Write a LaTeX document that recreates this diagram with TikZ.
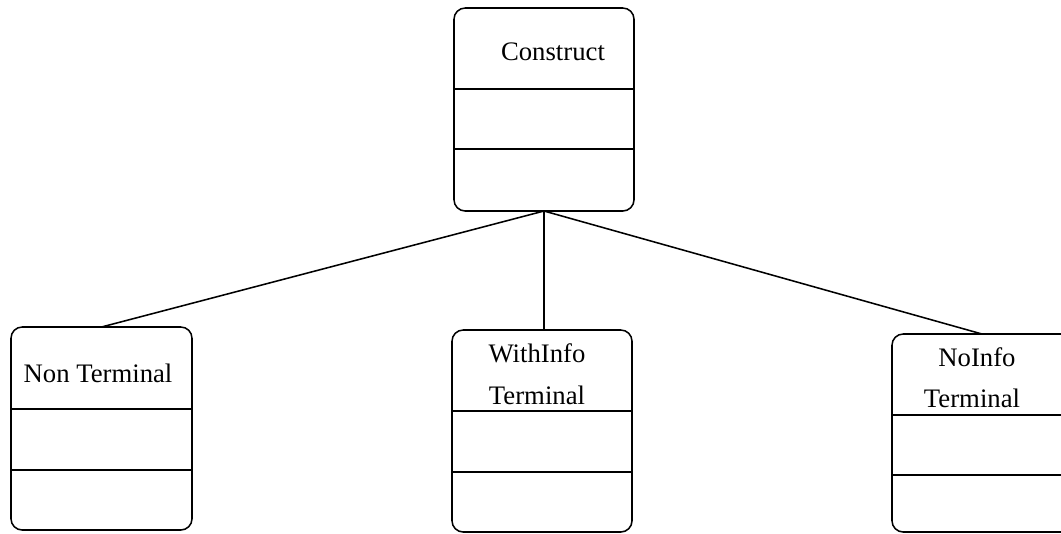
\documentclass[tikz,border=0pt]{standalone}
\usepackage{fontspec}
\setmainfont{Liberation Serif}
\usepackage{tikz}

\begin{document}
\begin{tikzpicture}[line width=1.1pt,
	classbox/.style={draw, rounded corners=0.28cm, inner sep=0pt, outer sep=0pt, minimum width=4.5cm},
	label/.style={inner sep=0pt, font=\fontsize{19}{23}\selectfont}]
	\useasboundingbox (0,0) rectangle (26.525,-13.325);
	% classes
	\node[classbox, minimum height=5.075cm] (construct) at (13.6,-2.7375) {};
	\node[classbox, minimum width=4.525cm, minimum height=5.075cm] (nonterm) at (2.5375,-10.7125) {};
	\node[classbox, minimum height=5.05cm] (withinfo) at (13.55,-10.775) {};
	\node[classbox, minimum height=4.95cm] (noinfo) at (24.55,-10.825) {};
	% compartments
	\draw (construct.west |- 0,-2.225) -- (construct.east |- 0,-2.225);
	\draw (construct.west |- 0,-3.725) -- (construct.east |- 0,-3.725);
	\draw (nonterm.west |- 0,-10.225) -- (nonterm.east |- 0,-10.225);
	\draw (nonterm.west |- 0,-11.75) -- (nonterm.east |- 0,-11.75);
	\draw (withinfo.west |- 0,-10.275) -- (withinfo.east |- 0,-10.275);
	\draw (withinfo.west |- 0,-11.8) -- (withinfo.east |- 0,-11.8);
	\draw (noinfo.west |- 0,-10.375) -- (noinfo.east |- 0,-10.375);
	\draw (noinfo.west |- 0,-11.875) -- (noinfo.east |- 0,-11.875);
	% names
	\node[label] (constructname) at (13.825,-1.3) {Construct};
	\node[label] (nontermname) at (2.45,-9.325) {Non Terminal};
	\node[label] (withinfoname) at (13.425,-8.825) {WithInfo};
	\node[label] (withinfoterm) at (13.425,-9.875) {Terminal};
	\node[label] (noinfoname) at (24.425,-8.925) {NoInfo};
	\node[label] (noinfoterm) at (24.3,-9.95) {Terminal};
	% generalisation
	\draw (construct.south) -- (nonterm.north);
	\draw (construct.south) -- (construct.south |- withinfo.north);
	\draw (construct.south) -- (noinfo.north);
\end{tikzpicture}
\end{document}
